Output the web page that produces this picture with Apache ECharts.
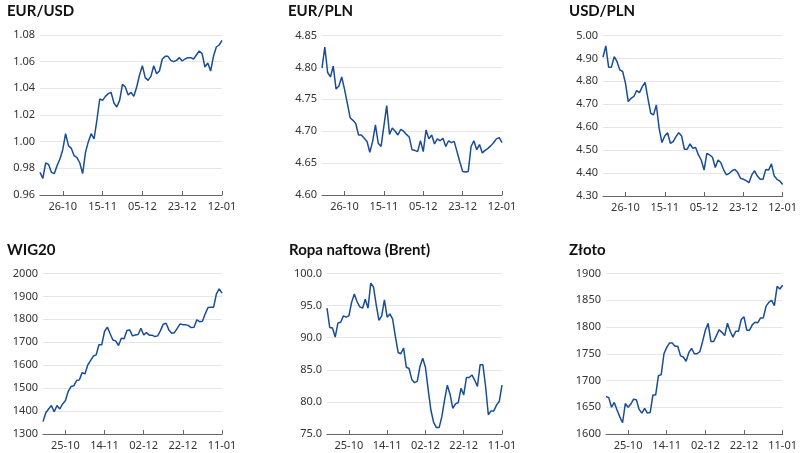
<!DOCTYPE html>
<html>
<head>
<meta charset="utf-8">
<script src="https://cdn.jsdelivr.net/npm/echarts@6/dist/echarts.min.js"></script>
<style>
html,body{margin:0;padding:0;background:#fff;}
#c{width:800px;height:453px;}
</style>
</head>
<body>
<div id="c"></div>
<script>
// Business-day categories (top row ends 12-01, bottom row ends 11-01)
const datesTop = ["14-10","17-10","18-10","19-10","20-10","21-10","24-10","25-10","26-10","27-10","28-10","31-10",
"01-11","02-11","03-11","04-11","07-11","08-11","09-11","10-11","11-11","14-11","15-11","16-11","17-11","18-11","21-11","22-11","23-11","24-11","25-11","28-11","29-11","30-11",
"01-12","02-12","05-12","06-12","07-12","08-12","09-12","12-12","13-12","14-12","15-12","16-12","19-12","20-12","21-12","22-12","23-12","26-12","27-12","28-12","29-12","30-12",
"02-01","03-01","04-01","05-01","06-01","09-01","10-01","11-01","12-01"];
const datesBottom = ["13-10","14-10","17-10","18-10","19-10","20-10","21-10","24-10","25-10","26-10","27-10","28-10","31-10",
"01-11","02-11","03-11","04-11","07-11","08-11","09-11","10-11","11-11","14-11","15-11","16-11","17-11","18-11","21-11","22-11","23-11","24-11","25-11","28-11","29-11","30-11",
"01-12","02-12","05-12","06-12","07-12","08-12","09-12","12-12","13-12","14-12","15-12","16-12","19-12","20-12","21-12","22-12","23-12","26-12","27-12","28-12","29-12","30-12",
"02-01","03-01","04-01","05-01","06-01","09-01","10-01","11-01"];

const eurusd = [0.977,0.9725,0.984,0.983,0.977,0.976,0.982,0.987,0.994,1.006,0.997,0.995,0.9895,0.988,0.984,0.976,0.992,1.000,1.006,1.002,1.016,1.032,1.031,1.034,1.036,1.037,1.029,1.026,1.031,1.043,1.041,1.035,1.037,1.034,1.041,1.050,1.057,1.048,1.046,1.049,1.057,1.051,1.053,1.062,1.064,1.064,1.061,1.060,1.061,1.063,1.0605,1.062,1.063,1.063,1.062,1.065,1.068,1.066,1.056,1.059,1.053,1.064,1.071,1.0725,1.076];
const eurpln = [4.799,4.832,4.792,4.785,4.802,4.766,4.771,4.785,4.766,4.744,4.721,4.717,4.712,4.694,4.694,4.689,4.684,4.667,4.684,4.710,4.681,4.676,4.708,4.740,4.695,4.705,4.700,4.694,4.703,4.700,4.695,4.691,4.671,4.670,4.668,4.685,4.668,4.702,4.688,4.694,4.680,4.688,4.685,4.689,4.676,4.685,4.682,4.684,4.668,4.652,4.637,4.636,4.637,4.676,4.685,4.671,4.679,4.666,4.670,4.673,4.677,4.682,4.688,4.690,4.682];
const usdpln = [4.905,4.955,4.862,4.862,4.908,4.886,4.850,4.843,4.792,4.712,4.726,4.734,4.760,4.751,4.777,4.795,4.726,4.661,4.654,4.697,4.595,4.533,4.562,4.576,4.530,4.537,4.559,4.576,4.562,4.504,4.504,4.527,4.508,4.512,4.479,4.457,4.413,4.486,4.479,4.469,4.424,4.457,4.445,4.413,4.392,4.399,4.410,4.416,4.402,4.377,4.373,4.367,4.358,4.392,4.410,4.387,4.373,4.373,4.416,4.413,4.440,4.387,4.373,4.365,4.350];
const wig20 = [1354,1393,1409,1424,1397,1424,1409,1431,1445,1485,1507,1510,1533,1536,1568,1562,1601,1620,1640,1645,1689,1689,1747,1766,1737,1710,1706,1686,1718,1715,1751,1754,1728,1732,1734,1761,1732,1742,1731,1731,1725,1728,1751,1779,1783,1754,1739,1742,1761,1780,1777,1776,1773,1764,1766,1798,1790,1792,1824,1852,1853,1853,1911,1933,1914];
const brent = [94.6,91.6,91.5,90.1,92.3,92.4,93.4,93.2,93.4,95.5,96.8,95.6,94.8,94.6,96.0,94.6,98.5,97.9,95.1,92.7,93.4,95.9,93.2,93.7,92.9,90.2,87.7,87.5,88.4,85.4,85.2,83.5,83.0,83.2,85.5,86.8,85.4,81.9,78.7,76.8,76.0,76.0,77.7,80.3,82.6,81.2,79.0,79.7,79.9,82.1,81.1,83.8,83.8,84.2,83.4,82.4,85.8,85.8,82.4,78.0,78.6,78.6,79.5,80.1,82.6];
const zloto = [1670,1668,1650,1659,1645,1632,1621,1657,1650,1656,1665,1664,1646,1639,1648,1639,1640,1673,1673,1709,1711,1750,1762,1770,1770,1764,1764,1746,1744,1736,1752,1760,1750,1750,1754,1773,1794,1807,1773,1773,1784,1795,1790,1784,1807,1792,1781,1792,1792,1814,1819,1794,1794,1804,1809,1808,1817,1817,1839,1846,1850,1840,1876,1871,1878];

const titles = ["EUR/USD","EUR/PLN","USD/PLN","WIG20","Ropa naftowa (Brent)","Złoto"];
const yMin = [0.96,4.60,4.30,1300,75,1600];
const yMax = [1.08,4.85,5.00,2000,100,1900];
const yStep = [0.02,0.05,0.10,100,5,50];
const yDec = [2,2,2,0,1,0];

const seriesData = [eurusd,eurpln,usdpln,wig20,brent,zloto];
const cats = [datesTop,datesTop,datesTop,datesBottom,datesBottom,datesBottom];

// layout
const grids = [
  {left:40, top:35, width:182, height:160},
  {left:322, top:35.5, width:180, height:159.5},
  {left:603, top:35.5, width:180, height:160.5},
  {left:43, top:273.5, width:179, height:160.5},
  {left:327, top:273.5, width:175, height:160.5},
  {left:606, top:273.5, width:177, height:160.5}
];
const titlePos = [
  {left:7, top:4},{left:288, top:4},{left:569, top:4},
  {left:7, top:243},{left:289, top:243},{left:569, top:243}
];

const lineColor = '#1a4d98';
const font = "'Noto Sans', 'Open Sans', sans-serif";
const titleFont = "Lato, 'Noto Sans', sans-serif";
const labelInt = (i) => (64 - i) % 14 === 0;

const option = {
  animation:false,
  backgroundColor:'#fff',
  title: titles.map((t,i)=>({
    text:t, left:titlePos[i].left, top:titlePos[i].top, padding:0,
    textStyle:{fontFamily:titleFont, fontSize:15, fontWeight:'bold', color:'#111'}
  })),
  grid: grids.map(g=>Object.assign({containLabel:false}, g)),
  xAxis: cats.map((c,i)=>({
    type:'category', gridIndex:i, data:c, boundaryGap:false,
    axisLine:{show:true, lineStyle:{color:'#666', width:1.2}},
    axisTick:{show:true, inside:true, length:4, interval:labelInt, lineStyle:{color:'#666'}},
    axisLabel:{interval:labelInt, margin:6, fontFamily:font, fontSize:11, color:'#333', showMaxLabel:true},
    splitLine:{show:false}
  })),
  yAxis: titles.map((t,i)=>({
    type:'value', gridIndex:i, min:yMin[i], max:yMax[i], interval:yStep[i],
    axisLine:{show:false}, axisTick:{show:false},
    axisLabel:{margin:5, fontFamily:font, fontSize:11, color:'#333',
      formatter:(v)=>v.toFixed(yDec[i])},
    splitLine:{show:true, lineStyle:{color:'#e6e6e6', width:1}}
  })),
  series: seriesData.map((d,i)=>({
    type:'line', xAxisIndex:i, yAxisIndex:i, data:d, symbol:'none', smooth:false,
    lineStyle:{color:lineColor, width:1.5}
  }))
};

const chart = echarts.init(document.getElementById('c'), null, {renderer:'canvas'});
chart.setOption(option);
</script>
</body>
</html>
